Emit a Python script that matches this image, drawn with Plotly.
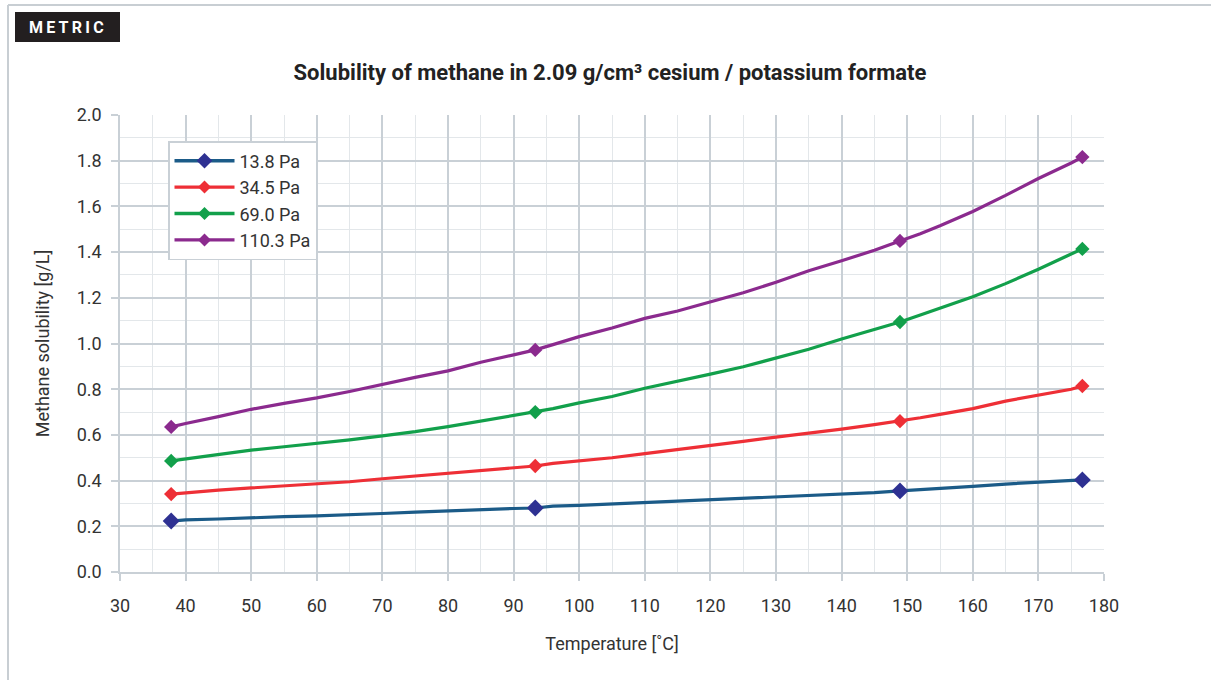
import plotly.graph_objects as go

# Temperature points (°C) for each curve
temp = [37.8, 40, 45, 50, 55, 60, 65, 70, 75, 80, 85, 90, 93.3, 96, 100, 105, 110, 115,
        120, 125, 130, 135, 140, 145, 148.9, 152, 155, 160, 165, 170, 175, 176.7]

sol_13_8 = [0.223, 0.228, 0.232, 0.238, 0.242, 0.246, 0.250, 0.256, 0.262, 0.268, 0.273, 0.278,
            0.280, 0.288, 0.292, 0.298, 0.303, 0.308, 0.315, 0.321, 0.327, 0.334, 0.340, 0.347,
            0.355, 0.360, 0.365, 0.375, 0.385, 0.393, 0.401, 0.403]
sol_34_5 = [0.341, 0.347, 0.358, 0.368, 0.377, 0.386, 0.395, 0.408, 0.420, 0.430, 0.442, 0.455,
            0.464, 0.475, 0.485, 0.500, 0.518, 0.537, 0.555, 0.572, 0.590, 0.607, 0.625, 0.645,
            0.660, 0.675, 0.690, 0.715, 0.748, 0.775, 0.800, 0.814]
sol_69_0 = [0.486, 0.495, 0.512, 0.533, 0.548, 0.562, 0.578, 0.596, 0.614, 0.636, 0.660, 0.683,
            0.700, 0.715, 0.740, 0.768, 0.804, 0.834, 0.866, 0.898, 0.935, 0.975, 1.020, 1.060,
            1.094, 1.125, 1.155, 1.205, 1.262, 1.325, 1.392, 1.414]
sol_110_3 = [0.635, 0.650, 0.680, 0.712, 0.738, 0.762, 0.790, 0.822, 0.852, 0.880, 0.918, 0.950,
             0.972, 0.995, 1.030, 1.068, 1.110, 1.142, 1.182, 1.222, 1.268, 1.318, 1.362, 1.408,
             1.449, 1.480, 1.515, 1.578, 1.648, 1.722, 1.790, 1.816]

# Measured points (markers)
marker_temp = [37.8, 93.3, 148.9, 176.7]
mk_13_8 = [0.223, 0.280, 0.355, 0.403]
mk_34_5 = [0.341, 0.464, 0.660, 0.814]
mk_69_0 = [0.486, 0.700, 1.094, 1.414]
mk_110_3 = [0.635, 0.972, 1.449, 1.816]

series_names = ["13.8 Pa", "34.5 Pa", "69.0 Pa", "110.3 Pa"]
line_colors = ["#1b5b88", "#ee2f36", "#12a04b", "#8b2a8e"]
marker_colors = ["#2e3192", "#ee2f36", "#12a04b", "#8b2a8e"]
marker_sizes = [13, 11, 11, 11]

curves = [sol_13_8, sol_34_5, sol_69_0, sol_110_3]
marks = [mk_13_8, mk_34_5, mk_69_0, mk_110_3]

fig = go.Figure()
for name, lc, mc, ms, ys, my in zip(series_names, line_colors, marker_colors, marker_sizes, curves, marks):
    fig.add_trace(go.Scatter(x=temp, y=ys, mode="lines", line=dict(color=lc, width=3.2),
                             showlegend=False, hoverinfo="skip"))
    fig.add_trace(go.Scatter(x=marker_temp, y=my, mode="markers",
                             marker=dict(symbol="diamond", color=mc, size=ms, line=dict(width=0)),
                             showlegend=False, name=name))
    fig.add_trace(go.Scatter(x=[None], y=[None], mode="lines+markers", name=name,
                             line=dict(color=lc, width=3.4),
                             marker=dict(symbol="diamond", color=mc, size=ms - 1)))

grid_major = "#c9d0d6"
grid_minor = "#e3e7ea"

fig.update_layout(
    width=1211, height=680,
    paper_bgcolor="white", plot_bgcolor="white",
    margin=dict(l=120, r=107, t=115, b=108),
    font=dict(family="Roboto, Inter, sans-serif", color="#333333"),
    title=dict(text="<b>Solubility of methane in 2.09 g/cm³ cesium / potassium formate</b>",
               x=(610) / 1211, xanchor="center", y=1 - 72 / 680, yanchor="middle",
               font=dict(size=22, color="#222222")),
    legend=dict(x=(168 - 120) / 984, y=(572 - 141) / 457, xanchor="left", yanchor="top",
                bgcolor="white", bordercolor="#c9d0d6", borderwidth=1.5,
                font=dict(size=18, color="#333333"), tracegroupgap=0,
                itemwidth=60),
    xaxis=dict(range=[30, 180], dtick=10, tick0=30, showgrid=True, gridcolor=grid_major, gridwidth=1.5,
               minor=dict(dtick=5, showgrid=True, gridcolor=grid_minor, gridwidth=1.2),
               showline=True, linecolor=grid_major, linewidth=1.5,
               ticks="outside", ticklen=7, tickcolor=grid_major, tickwidth=1.5,
               ticklabelstandoff=10,
               tickfont=dict(size=18, color="#333333"), zeroline=False,
               title=dict(text="Temperature [˚C]", font=dict(size=18, color="#333333"), standoff=22)),
    yaxis=dict(range=[0, 2.0], dtick=0.2, tickformat=".1f", showgrid=True, gridcolor=grid_major, gridwidth=1.5,
               minor=dict(dtick=0.1, showgrid=True, gridcolor=grid_minor, gridwidth=1.2),
               showline=True, linecolor=grid_major, linewidth=1.5,
               ticks="outside", ticklen=7, tickcolor=grid_major, tickwidth=1.5,
               ticklabelstandoff=6,
               tickfont=dict(size=18, color="#333333"), zeroline=False,
               title=dict(text="Methane solubility [g/L]", font=dict(size=18, color="#333333"), standoff=22)),
)

# Frame lines around chart panel (top and left)
def px_to_paper_x(px):
    return (px - 120) / 984

def py_to_paper_y(py):
    return (572 - py) / 457

fig.add_shape(type="line", xref="paper", yref="paper",
              x0=px_to_paper_x(8), x1=px_to_paper_x(1211), y0=py_to_paper_y(5), y1=py_to_paper_y(5),
              line=dict(color="#c8ced3", width=2))
fig.add_shape(type="line", xref="paper", yref="paper",
              x0=px_to_paper_x(8), x1=px_to_paper_x(8), y0=py_to_paper_y(5), y1=py_to_paper_y(680),
              line=dict(color="#c8ced3", width=2))
# METRIC label box
fig.add_shape(type="rect", xref="paper", yref="paper",
              x0=px_to_paper_x(15), x1=px_to_paper_x(120), y0=py_to_paper_y(42), y1=py_to_paper_y(12),
              fillcolor="#231f20", line=dict(width=0))
fig.add_annotation(xref="paper", yref="paper", x=px_to_paper_x(66), y=py_to_paper_y(27),
                   text="<b>M\u2009E\u2009T\u2009R\u2009I\u2009C</b>", showarrow=False,
                   xanchor="center", yanchor="middle",
                   font=dict(size=16, color="white", family="Roboto, sans-serif"))

fig.write_html("out.html")
